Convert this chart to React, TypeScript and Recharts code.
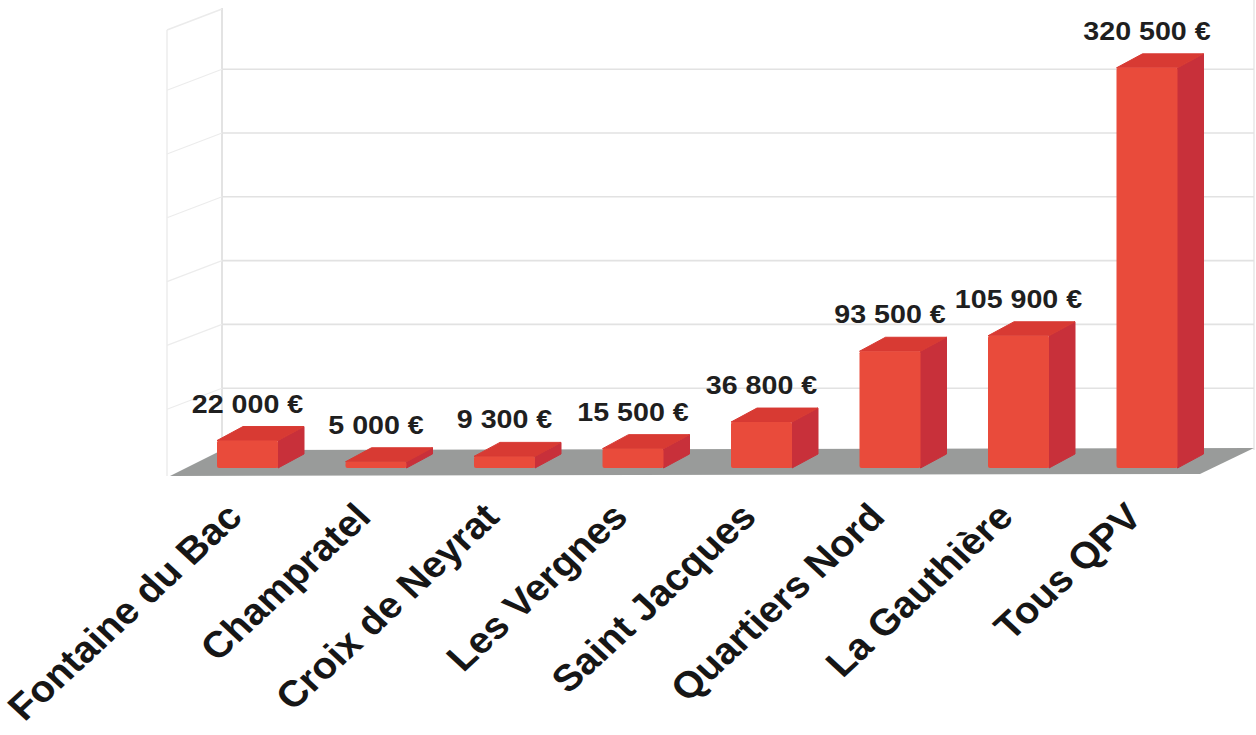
import React from "react";
import { BarChart, Bar, XAxis, YAxis, CartesianGrid, LabelList } from "recharts";

const categories = [
  "Fontaine du Bac",
  "Champratel",
  "Croix de Neyrat",
  "Les Vergnes",
  "Saint Jacques",
  "Quartiers Nord",
  "La Gauthière",
  "Tous QPV",
];
const amounts = [22000, 5000, 9300, 15500, 36800, 93500, 105900, 320500];
const gridTicks = [0, 50000, 100000, 150000, 200000, 250000, 300000, 350000];

const data = categories.map((name, i) => ({ name, value: amounts[i] }));

const W = 1256;
const H = 735;
const M = { top: 31, right: 45, bottom: 207, left: 183 };
const XH = 60;
const PLOT_BOTTOM = H - M.bottom - XH; // 468
const DX = 26;
const DY = -14;
const WALL_X = 222;
const RIGHT_X = 1254;
const SIDE_X = 167;
const STRETCH = 1.08;

const FONT = "'Liberation Sans', Arial, Helvetica, sans-serif";

function fmt(n: number): string {
  const th = Math.floor(n / 1000);
  const rest = String(n % 1000).padStart(3, "0");
  return `${th} ${rest} €`;
}

function wallY(y: number): number {
  return y - 16 - (PLOT_BOTTOM - y) * 0.022;
}

function GridLine(props: any) {
  const { y1, index } = props;
  if (Math.abs(y1 - PLOT_BOTTOM) < 1) return <g key={`g${index}`} />;
  const yw = wallY(y1);
  if (yw < 20) return <g key={`g${index}`} />;
  return (
    <g key={`g${index}`}>
      <line x1={WALL_X} x2={RIGHT_X} y1={yw} y2={yw} stroke="#e2e2e2" strokeWidth={1.6} />
      <line x1={WALL_X} x2={SIDE_X} y1={yw} y2={yw + 21} stroke="#ececec" strokeWidth={1.2} />
    </g>
  );
}

function Bar3D(props: any) {
  const { x, y, width, height } = props;
  if (width == null || height == null) return null;
  const w = width;
  const h = Math.max(height, 0);
  const top = `M${x},${y} L${x + DX},${y + DY} L${x + w + DX},${y + DY} L${x + w},${y} Z`;
  const side = `M${x + w},${y} L${x + w + DX},${y + DY} L${x + w + DX},${y + h + DY} L${x + w},${y + h} Z`;
  return (
    <g>
      <path d={side} fill="#c8303a" stroke="#c8303a" strokeWidth={1} strokeLinejoin="round" />
      <path d={top} fill="#d83a33" stroke="#d83a33" strokeWidth={1} strokeLinejoin="round" />
      <rect x={x} y={y} width={w} height={h} fill="#e94b3b" rx={2} />
    </g>
  );
}

function ValueLabel(props: any) {
  const { x, y, width, value } = props;
  const cx = x + width / 2;
  return (
    <g transform={`translate(${cx},${y - 28}) scale(${STRETCH},1)`}>
      <text
        x={0}
        y={0}
        textAnchor="middle"
        fontFamily={FONT}
        fontWeight="bold"
        fontSize={26.5}
        fill="#1f1f1f"
      >
        {fmt(value)}
      </text>
    </g>
  );
}

function XTick(props: any) {
  const { x, payload } = props;
  return (
    <g transform={`translate(${x - 3},${PLOT_BOTTOM + 51}) scale(${STRETCH},1)`}>
      <text
        x={0}
        y={0}
        textAnchor="end"
        transform="rotate(-45)"
        fontFamily={FONT}
        fontWeight="bold"
        fontSize={37}
        fill="#161616"
      >
        {payload.value}
      </text>
    </g>
  );
}

function Background() {
  const floorBack = PLOT_BOTTOM - 18;
  const floorFront = PLOT_BOTTOM + 8;
  return (
    <svg width={W} height={H} style={{ position: "absolute", left: 0, top: 0 }}>
      <rect x={0} y={0} width={W} height={H} fill="#ffffff" />
      <line x1={WALL_X} y1={8} x2={WALL_X} y2={floorBack} stroke="#dcdcdc" strokeWidth={1.6} />
      <line x1={RIGHT_X} y1={0} x2={RIGHT_X} y2={floorBack} stroke="#e6e6e6" strokeWidth={1.4} />
      <line x1={SIDE_X} y1={30} x2={SIDE_X} y2={floorFront} stroke="#ebebeb" strokeWidth={1.4} />
      <line x1={SIDE_X} y1={30} x2={WALL_X} y2={9} stroke="#ebebeb" strokeWidth={1.4} />
      <polygon
        points={`${SIDE_X + 3},${floorFront} ${1200},${floorFront - 2} ${RIGHT_X},${floorBack - 2} ${WALL_X},${floorBack}`}
        fill="#999b9a"
      />
    </svg>
  );
}

export default function App() {
  return (
    <div style={{ position: "absolute", left: 0, top: 0, width: W, height: H, background: "#fff" }}>
      <Background />
      <div style={{ position: "absolute", left: 0, top: 0 }}>
        <BarChart width={W} height={H} data={data} margin={M}>
          <YAxis hide domain={[0, 350000]} ticks={gridTicks} />
          <CartesianGrid vertical={false} horizontal={GridLine} />
          <XAxis
            dataKey="name"
            height={XH}
            axisLine={false}
            tickLine={false}
            interval={0}
            tick={<XTick />}
          />
          <Bar dataKey="value" barSize={61} shape={<Bar3D />} isAnimationActive={false}>
            <LabelList dataKey="value" content={<ValueLabel />} />
          </Bar>
        </BarChart>
      </div>
    </div>
  );
}
